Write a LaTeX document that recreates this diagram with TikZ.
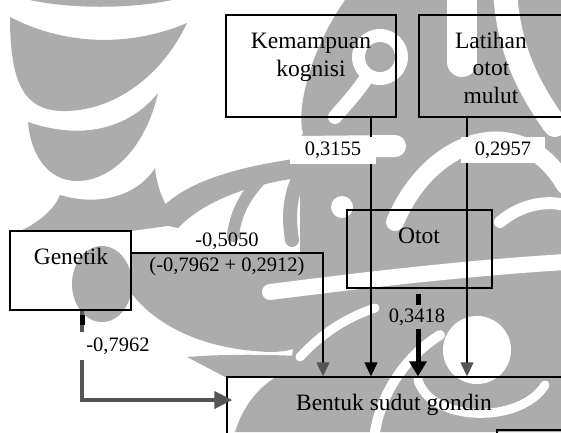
\documentclass[tikz,border=0pt]{standalone}
\usepackage{fontspec}
\setmainfont{Liberation Serif}
\usetikzlibrary{arrows.meta}
\definecolor{wm}{RGB}{172,172,172}
\definecolor{darkline}{RGB}{85,85,85}
\begin{document}
\begin{tikzpicture}[x=1pt,y=-1pt,
  box/.style={draw=black, line width=1.4pt, inner sep=0pt},
  boxtext/.style={font=\fontsize{23.5}{27.5}\selectfont, align=center, inner sep=0pt},
  numlbl/.style={font=\fontsize{20.5}{24}\selectfont, inner sep=0pt},
  gaplbl/.style={numlbl, fill=white},
  thinarr/.style={line width=1.3pt, -{Triangle[length=14pt,width=13pt]}},
  greyarr/.style={line width=1.3pt, -{Triangle[length=14pt,width=13pt,color=darkline]}},
  otarr/.style={line width=5pt, -{Triangle[length=15pt,width=17pt]}},
  genarr/.style={line width=4pt, darkline, -{Triangle[length=18pt,width=17pt]}},
  wmw/.style={draw=white, line cap=round},
  wmg/.style={draw=wm, line cap=round}
]
\useasboundingbox (0,0) rectangle (561,432);
\clip (0,0) rectangle (561,432);
% ---- watermark (approximation) ----
\fill[wm] (30,0) .. controls (70,9) and (130,9) .. (172,0) -- cycle;
\fill[wm] (10,17) .. controls (70,48) and (135,45) .. (187,23) .. controls (160,80) and (110,112) .. (62,111) .. controls (25,110) and (10,85) .. cycle;
\fill[wm] (28,122) .. controls (80,140) and (128,130) .. (158,93) .. controls (145,150) and (110,181) .. (77,181) .. controls (45,181) and (30,150) .. cycle;
\fill[wm] (60,195) .. controls (100,207) and (138,195) .. (155,168) .. controls (158,195) and (168,212) .. (182,224) -- (131,231) -- (20,231) .. controls (40,222) and (55,208) .. cycle;
\fill[wm] (150,222) .. controls (180,175) and (260,158) .. (400,148) -- (400,170) .. controls (300,172) and (220,185) .. (178,228) -- cycle;
\path[wmg, line width=12pt] (262,178) .. controls (245,195) and (235,215) .. (233,236);
\path[wmg, line width=14pt] (300,175) .. controls (290,195) and (288,215) .. (292,240);
\fill[wm] (102,284) ellipse [x radius=30, y radius=38];
\fill[wm] (131,253) -- (323,253) -- (335,310) .. controls (320,340) and (300,352) .. (270,352) .. controls (210,350) and (160,330) .. (131,293) -- cycle;
\fill[wm] (187,357) .. controls (250,352) and (320,356) .. (365,362) -- (365,380) .. controls (300,378) and (250,375) .. (227,378) -- cycle;
\fill[wm] (345,0) -- (561,0) -- (561,432) -- (235,432) .. controls (245,400) and (265,380) .. (290,370) -- (300,300) -- (300,175) .. controls (296,160) and (296,145) .. (303,133) .. controls (296,110) and (310,50) .. cycle;
\fill[white] (380,57) circle (28);
\fill[wm] (380,57) circle (15);
\path[wmw, line width=14pt] (365,80) .. controls (355,95) and (345,105) .. (335,117);
\path[wmw, line width=30pt] (462,-20) -- (462,62);
\path[wmw, line width=24pt] (505,-10) .. controls (508,50) and (530,90) .. (555,125);
\path[wmw, line width=22pt] (300,147) -- (395,146);
\path[wmw, line width=18pt] (395,222) .. controls (430,138) and (520,108) .. (565,185);
\fill[white] (342,207) circle (11);
\path[wmw, line width=16pt] (270,292) .. controls (380,278) and (470,268) .. (565,262);
\path[wmw, line width=12pt] (500,222) .. controls (520,205) and (545,200) .. (565,205);
\fill[white] (477,350) circle (34);
\path[wmw, line width=9pt] (418,380) .. controls (430,422) and (520,425) .. (545,385);
\path[wmw, line width=9pt] (300,357) .. controls (320,335) and (345,318) .. (375,308);
\path[wmw, line width=10pt] (375,432) .. controls (380,400) and (400,360) .. (440,335);
% ---- boxes ----
\node[box, minimum width=170pt, minimum height=102pt] (kem) at (311,66) {};
\node[boxtext, anchor=base] (kemt) at (311,76) {Kemampuan\\kognisi};
\node[box, minimum width=144pt, minimum height=102pt] (lat) at (491,66) {};
\node[boxtext, anchor=base] (latt) at (491,103) {Latihan\\otot\\mulut};
\node[box, minimum width=121pt, minimum height=79pt] (gen) at (70.5,270.5) {};
\node[boxtext, anchor=base] (gent) at (71,264) {Genetik};
\node[box, minimum width=145pt, minimum height=78pt] (ot) at (419.5,249) {};
\node[boxtext, anchor=base] (ott) at (419,243) {Otot};
\node[box, minimum width=373pt, minimum height=93pt] (bent) at (413.5,423.5) {};
\node[boxtext, anchor=base] (bentt) at (394,410) {Bentuk sudut gondin};
\node[box, minimum width=103pt, minimum height=50pt] (extra) at (548.5,455) {};
% ---- connector positions ----
\coordinate (kx) at (371,0);
\coordinate (lx) at (467,0);
\coordinate (ox) at (418,0);
\coordinate (gx) at (323,0);
\coordinate (gy) at (0,253);
\coordinate (g2x) at (82,0);
\coordinate (g2y) at (0,400);
% ---- connectors ----
\draw[thinarr] (kem.south -| kx) -- (bent.north -| kx);
\draw[greyarr] (lat.south -| lx) -- (bent.north -| lx);
\draw[greyarr] (gen.east |- gy) -| (bent.north -| gx);
\draw[otarr] ([yshift=-5pt]ot.south -| ox) -- (bent.north -| ox);
\draw[genarr, shorten >=-6pt] (gen.south -| g2x) |- (bent.west |- g2y);
\draw[line width=5pt] ([yshift=-4pt]gen.south -| g2x) -- ++(0,10);
% ---- labels ----
\node[gaplbl, minimum width=86pt, minimum height=27pt] (l1) at (333,150) {0,3155};
\node[gaplbl, minimum width=84pt, minimum height=26pt] (l2) at (503,150) {0,2957};
\node[gaplbl, fill=wm, minimum width=60pt, minimum height=24pt] (l3) at (417,317) {0,3418};
\node[gaplbl, minimum width=82pt, minimum height=28pt] (l4) at (118,346) {-0,7962};
\node[numlbl] (l5) at (227,241) {-0,5050};
\node[numlbl] (l6) at (227,267) {(-0,7962 + 0,2912)};
\end{tikzpicture}
\end{document}
